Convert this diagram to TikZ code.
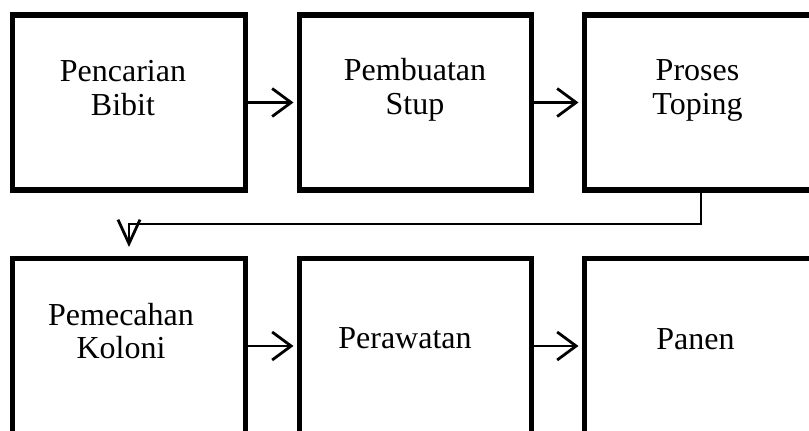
\documentclass[tikz,border=0pt]{standalone}
\usepackage{fontspec}
\setmainfont{Liberation Serif}
\usetikzlibrary{arrows.meta}
\begin{document}
\begin{tikzpicture}[x=1bp,y=-1bp,
  box/.style={draw=black,line width=5.5bp,minimum width=233bp,minimum height=175bp,inner sep=0pt,outer sep=0pt},
  lbl/.style={anchor=base,inner sep=0pt,font=\fontsize{32bp}{34bp}\selectfont},
  conn/.style={draw=black,line width=2.5bp},
  rarrow/.style={conn,shorten >=6bp,-{Straight Barb[length=19bp,width=28bp,line width=2.8bp]}},
  darrow/.style={conn,-{Straight Barb[length=24bp,width=22bp,line width=2.8bp]}}]
\useasboundingbox (0,0) rectangle (809,430);
\clip (0,0) rectangle (809,430);
\node[box] (b1) at (129,102.5) {};
\node[box,minimum width=232bp] (b2) at (415.5,102.5) {};
\node[box] (b3) at (701,102.5) {};
\node[box,minimum width=232.5bp] (b4) at (129,346) {};
\node[box,minimum width=232bp] (b5) at (415.5,346) {};
\node[box] (b6) at (701,346) {};
\node[lbl] (t1a) at (123,81) {Pencarian};
\node[lbl] (t1b) at (123,115) {Bibit};
\node[lbl] (t2a) at (415,80) {Pembuatan};
\node[lbl] (t2b) at (415,114) {Stup};
\node[lbl] (t3a) at (697.5,80) {Proses};
\node[lbl] (t3b) at (697.5,114) {Toping};
\node[lbl] (t4a) at (121,325) {Pemecahan};
\node[lbl] (t4b) at (121,358) {Koloni};
\node[lbl] (t5) at (405,348) {Perawatan};
\node[lbl] (t6) at (695.5,349) {Panen};
\draw[rarrow] (b1.east) -- (b2.west);
\draw[rarrow] (b2.east) -- (b3.west);
\draw[rarrow] (b4.east) -- (b5.west);
\draw[rarrow] (b5.east) -- (b6.west);
\draw[darrow] (b3.south) -- ++(0,34) -| ([yshift=11.5bp]b4.north);
\end{tikzpicture}
\end{document}
